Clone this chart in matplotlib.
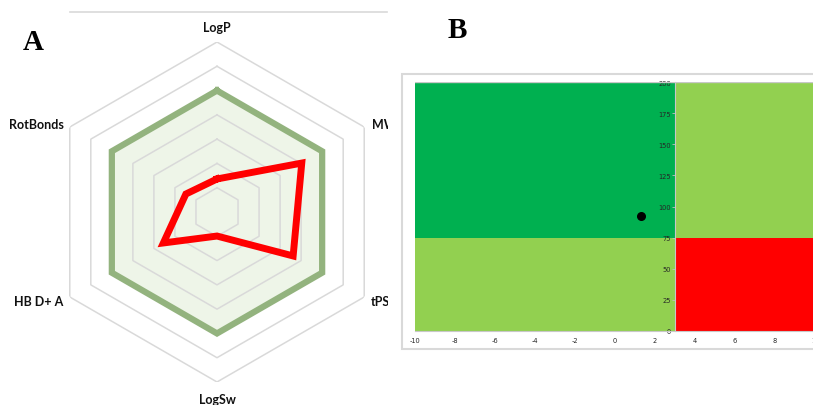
import numpy as np
import matplotlib
matplotlib.use('Agg')
import matplotlib.pyplot as plt
from matplotlib.patches import Rectangle
from matplotlib.lines import Line2D

plt.rcParams['axes.unicode_minus'] = False

# radar panel (A)
properties = ['LogP', 'MW', 'tPSA', 'LogSw', 'HB D+ A', 'RotBonds']
compound = [1.36, 4.03, 3.62, 0.99, 2.55, 1.48]
optimal_limit = 5
ring_levels = [1, 2, 3, 4, 5, 6, 7]

# quadrant panel (B)
x_limits = [-10, 10]
y_limits = [0, 200]
x_cut = 3
y_cut = 75
quadrant_colors = {'upper_left': '#00b050', 'upper_right': '#92d050',
                   'lower_left': '#92d050', 'lower_right': '#ff0000'}
point_x = [1.3]
point_y = [92]
x_ticks = list(range(-10, 11, 2))
y_ticks = list(range(0, 201, 25))

W, H = 813, 406
fig = plt.figure(figsize=(W / 100, H / 100), dpi=100)

# ---- A: radar ----
cx, cy, R = 217, 213, 170
ax = fig.add_axes([(cx - R) / W, (H - cy - R) / H, 2 * R / W, 2 * R / H], polar=True)
ax.set_theta_zero_location('N')
ax.set_theta_direction(-1)
ax.set_ylim(0, ring_levels[-1])
ax.grid(False)
ax.spines['polar'].set_visible(False)
ax.set_xticks([])
ax.set_yticks([])
ax.patch.set_alpha(0)

theta = np.linspace(0, 2 * np.pi, len(properties), endpoint=False)
closed = np.append(theta, theta[0])

ax.fill(closed, [optimal_limit] * len(closed), color='#eef5e8', zorder=1)
for lvl in ring_levels:
    ax.plot(closed, [lvl] * len(closed), color='#d9d9d9', lw=1.1, zorder=2)
ax.plot(closed, [optimal_limit] * len(closed), color='#93b37e', lw=4.5,
        zorder=3, solid_joinstyle='miter')
ax.plot(closed, compound + compound[:1], color='#ff0000', lw=5, zorder=4,
        solid_joinstyle='miter')

label_offsets = [(0, 15, 'center'), (8, 3, 'left'), (7, -4, 'left'),
                 (0, -17, 'center'), (-7, -4, 'right'), (-6, 3, 'right')]
for t, name, (dx, dy, ha) in zip(theta, properties, label_offsets):
    ax.annotate(name, xy=(t, ring_levels[-1]), xytext=(dx, dy),
                textcoords='offset pixels', ha=ha, va='center',
                fontsize=9, fontweight='bold', family='Lato',
                color='#111111', annotation_clip=False)

fig.add_artist(Line2D([70 / W, 387 / W], [1 - 13 / H, 1 - 13 / H],
                      color='#d9d9d9', lw=1.2))
fig.text(33 / W, 1 - 42 / H, 'A', fontsize=21, fontweight='bold',
         family='Liberation Serif', ha='center', va='center')
fig.text(457 / W, 1 - 30 / H, 'B', fontsize=21, fontweight='bold',
         family='Liberation Serif', ha='center', va='center')

# white gap and frame for panel B
fig.add_artist(Rectangle((388 / W, 0), 14 / W, 1, transform=fig.transFigure,
                         facecolor='white', edgecolor='none', zorder=5))
fig.add_artist(Rectangle((402 / W, 1 - 350 / H), 420 / W, 275 / H,
                         transform=fig.transFigure, facecolor='white',
                         edgecolor='#d9d9d9', lw=1.5, zorder=6))

# ---- B: quadrant chart ----
bx0, bx1, by0, by1 = 415, 815, 83, 332
axb = fig.add_axes([bx0 / W, (H - by1) / H, (bx1 - bx0) / W, (by1 - by0) / H])
axb.set_zorder(10)
axb.set_xlim(x_limits)
axb.set_ylim(y_limits)

quads = [
    (x_limits[0], y_cut, x_cut - x_limits[0], y_limits[1] - y_cut, 'upper_left'),
    (x_cut, y_cut, x_limits[1] - x_cut, y_limits[1] - y_cut, 'upper_right'),
    (x_limits[0], y_limits[0], x_cut - x_limits[0], y_cut - y_limits[0], 'lower_left'),
    (x_cut, y_limits[0], x_limits[1] - x_cut, y_cut - y_limits[0], 'lower_right'),
]
for x0, y0, w, h, key in quads:
    axb.add_patch(Rectangle((x0, y0), w, h, facecolor=quadrant_colors[key],
                            edgecolor='none', zorder=1))
axb.axhline(y_limits[1], color='#c8c8c8', lw=1, zorder=2)

axb.scatter(point_x, point_y, s=30, color='black', zorder=5)

axb.spines['left'].set_position(('data', x_cut))
axb.spines['left'].set_color('#c8c8c8')
axb.spines['left'].set_zorder(3)
axb.spines['bottom'].set_color('#c8c8c8')
axb.spines['top'].set_visible(False)
axb.spines['right'].set_visible(False)
axb.set_xticks(x_ticks)
axb.set_yticks(y_ticks)
axb.tick_params(axis='x', length=0, pad=4, labelsize=4.8, labelcolor='#262626')
axb.tick_params(axis='y', length=2, width=0.6, color='#bfbfbf', pad=1,
                labelsize=4.8, labelcolor='#262626')

fig.savefig('out.png', dpi=100)
